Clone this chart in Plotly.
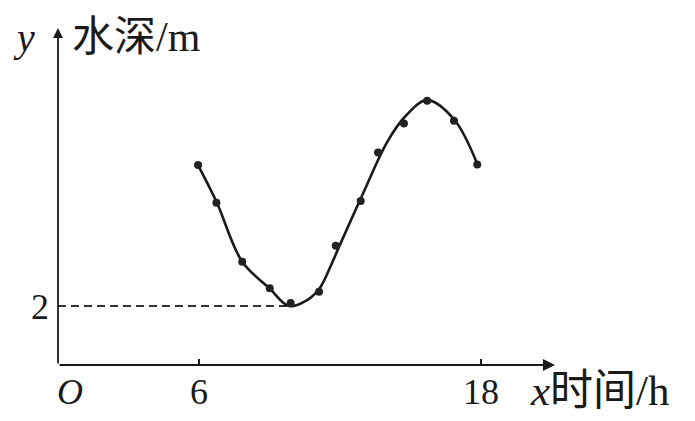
import plotly.graph_objects as go

# observed data points (time in h, water depth in m)
dot_x = [5.96, 6.74, 7.84, 9.01, 9.90, 11.11, 11.82, 12.88, 13.62, 14.72, 15.71, 16.85, 17.84]
dot_y = [6.78, 5.50, 3.50, 2.60, 2.10, 2.48, 4.04, 5.56, 7.20, 8.19, 8.96, 8.28, 6.80]

# fitted smooth curve
curve_x = [5.93, 6.74, 7.84, 9.00, 9.83, 10.60, 11.15, 11.60, 12.00, 13.00, 14.00, 14.80, 15.71, 16.85, 17.86]
curve_y = [6.82, 5.54, 3.50, 2.60, 2.00, 2.20, 2.62, 3.35, 4.08, 5.85, 7.55, 8.45, 8.98, 8.33, 6.78]

min_x = 9.83
min_y = 2
x_ticks = [6, 18]
x_tick_labels = ["6", "18"]

X_RANGE = [0, 22]
Y_RANGE = [0, 12]

SERIF = "Liberation Serif, Noto Sans CJK SC"
INK = "#1a1a1a"

def px(x):
    return (x - X_RANGE[0]) / (X_RANGE[1] - X_RANGE[0])

def py(y):
    return (y - Y_RANGE[0]) / (Y_RANGE[1] - Y_RANGE[0])

fig = go.Figure()

# dashed guide to minimum
fig.add_trace(go.Scatter(x=[0, min_x], y=[min_y, min_y], mode="lines",
                         line=dict(color="#333", width=1.8, dash="8px,5px"),
                         hoverinfo="skip", showlegend=False))
# fitted curve
fig.add_trace(go.Scatter(x=curve_x, y=curve_y, mode="lines",
                         line=dict(color=INK, width=2.6, shape="spline", smoothing=1.0),
                         showlegend=False))
# data points
fig.add_trace(go.Scatter(x=dot_x, y=dot_y, mode="markers",
                         marker=dict(color="#222", size=8),
                         showlegend=False))

ann = []
# axes with arrows
ann.append(dict(x=21.15, y=0, ax=0, ay=0, xref="x", yref="y", axref="x", ayref="y",
                showarrow=True, arrowhead=2, arrowsize=1.1, arrowwidth=2.2,
                arrowcolor=INK, text="", standoff=0, startstandoff=0))
ann.append(dict(x=0, y=11.42, ax=0, ay=0, xref="x", yref="y", axref="x", ayref="y",
                showarrow=True, arrowhead=2, arrowsize=1.1, arrowwidth=1.8,
                arrowcolor=INK, text="", standoff=0, startstandoff=0))

def label(text, x, y, xanchor="center", size=33):
    ann.append(dict(x=px(x), y=py(y), xref="paper", yref="paper", text=text,
                    showarrow=False, xanchor=xanchor, yanchor="middle",
                    font=dict(family=SERIF, size=size, color=INK)))

label("<i>y</i>", -1.45, 11.1, size=40)
label("水深/m", 0.51, 11.12, xanchor="left", size=42)
label("<i>x</i>时间/h", 20.0, -0.85, xanchor="left", size=43)
label("<i>O</i>", 0.51, -0.92, size=36)
for tv, tl in zip(x_ticks, x_tick_labels):
    label(tl, tv, -0.92, size=36)
label("2", -0.3, 1.97, xanchor="right", size=36)

# page body has an 8px default margin; compensate so the plot lands in place
fig.update_layout(
    width=687, height=413,
    margin=dict(l=50, r=120, t=3, b=56),
    paper_bgcolor="white", plot_bgcolor="white",
    annotations=ann,
    xaxis=dict(range=X_RANGE, showgrid=False, zeroline=False, showline=False,
               tickvals=x_ticks, ticks="inside", ticklen=6, tickwidth=1.5,
               tickcolor=INK, showticklabels=False, fixedrange=True),
    yaxis=dict(range=Y_RANGE, showgrid=False, zeroline=False, showline=False,
               tickvals=[], showticklabels=False, fixedrange=True),
)

fig.write_html("out.html")
